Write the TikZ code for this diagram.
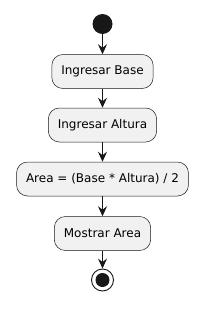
\documentclass[tikz,border=0pt]{standalone}
\usepackage{fontspec}
\setmainfont{DejaVu Sans}
\usepackage{tikz}
\usetikzlibrary{arrows.meta}
\usepackage{xcolor}
\definecolor{actline}{HTML}{181818}
\definecolor{actfill}{HTML}{F1F1F1}

\begin{document}
\begin{tikzpicture}[x=1pt,y=-1pt,>={Stealth[length=10pt,width=9pt,inset=3.5pt]},
  actbox/.style={draw=actline,fill=actfill,line width=0.5pt,rounded corners=11pt,
    minimum height=34pt,inner xsep=9.5pt,font=\fontsize{12}{14}\selectfont},
  flow/.style={->,actline,line width=1pt}]
\useasboundingbox (0,0) rectangle (208,311);
\node[circle,fill=actline,minimum size=20pt,inner sep=0pt] (start) at (102.5,24) {};
\node[actbox] (base) at (102.5,71.5) {Ingresar Base};
\node[actbox] (altura) at (102.5,125) {Ingresar Altura};
\node[actbox] (area) at (102.5,179) {Area = (Base * Altura) / 2};
\node[actbox] (mostrar) at (102.5,233.5) {Mostrar Area};
\node[circle,draw=actline,line width=0.9pt,fill=white,minimum size=22pt,inner sep=0pt] (stop) at (102.5,280) {};
\node[circle,fill=actline,minimum size=14pt,inner sep=0pt] (stopdot) at (stop.center) {};
\draw[flow] (start) -- (base);
\draw[flow] (base) -- (altura);
\draw[flow] (altura) -- (area);
\draw[flow] (area) -- (mostrar);
\draw[flow] (mostrar) -- (stop);
\end{tikzpicture}
\end{document}
